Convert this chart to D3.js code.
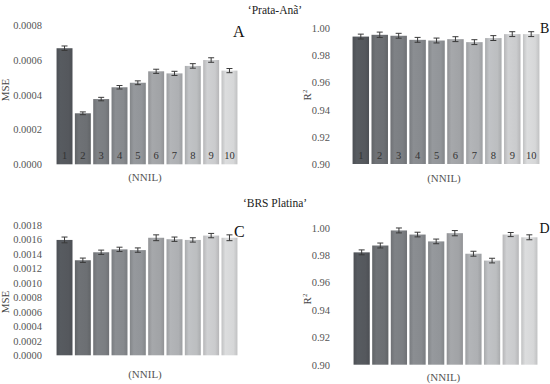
<!DOCTYPE html>
<html><head><meta charset="utf-8">
<script src="https://cdn.jsdelivr.net/npm/d3@7"></script>
<style>body{margin:0;background:#fff}svg{display:block}text{font-family:"Liberation Serif","Times New Roman",serif}</style>
</head><body><div id="c"></div>
<script>
const categories = ["1","2","3","4","5","6","7","8","9","10"];
const mseA = [0.000669,0.000294,0.000376,0.000444,0.00047,0.000536,0.000524,0.000567,0.000601,0.00054];
const mseAerr = [0.000013,0.000008,0.000010,0.000010,0.000011,0.000012,0.000012,0.000013,0.000013,0.000012];
const r2B = [0.9939,0.9952,0.9945,0.9915,0.991,0.992,0.9898,0.9928,0.9957,0.9957];
const r2Berr = [0.0018,0.0020,0.0018,0.0018,0.0018,0.0018,0.0018,0.0018,0.0018,0.0018];
const mseC = [0.00159,0.00131,0.00142,0.00146,0.00145,0.00162,0.0016,0.00159,0.00165,0.00162];
const mseCerr = [0.00004,0.00003,0.00003,0.00003,0.00003,0.00004,0.00003,0.00003,0.00003,0.00004];
const r2D = [0.982,0.987,0.998,0.995,0.99,0.996,0.981,0.976,0.995,0.993];
const r2Derr = [0.0018,0.0018,0.0018,0.0017,0.0017,0.0019,0.0018,0.0017,0.0015,0.0018];
const mseTicks = ["0.0000","0.0002","0.0004","0.0006","0.0008"];
const mseCTicks = ["0.0000","0.0002","0.0004","0.0006","0.0008","0.0010","0.0012","0.0014","0.0016","0.0018"];
const r2Ticks = ["0.90","0.92","0.94","0.96","0.98","1.00"];
const barColors = ["#55585d","#6c6f73","#7b7e82","#878a8e","#929599","#a1a3a6","#aeb0b3","#bcbec0","#cacbcd","#d6d7d8"];

const svg = d3.select("#c").append("svg").attr("width",550).attr("height",384);
const defs = svg.append("defs");
barColors.forEach((c,i)=>{
  const g = defs.append("linearGradient").attr("id","g"+i).attr("x1","0").attr("x2","1").attr("y1","0").attr("y2","0");
  const dk = d3.color(c).darker(0.3), lt = d3.color(c).brighter(0.08);
  g.append("stop").attr("offset","0%").attr("stop-color",dk);
  g.append("stop").attr("offset","25%").attr("stop-color",lt);
  g.append("stop").attr("offset","75%").attr("stop-color",c);
  g.append("stop").attr("offset","100%").attr("stop-color",dk);
});

function panel(o){
  const x = d3.scaleBand().domain(categories).range(o.xr).paddingInner(0.13).paddingOuter(0.03);
  const y = d3.scaleLinear().domain(o.dom).range(o.yr);
  const g = svg.append("g");
  const ax = g.append("g").attr("transform",`translate(${o.axx},0)`)
    .call(d3.axisLeft(y).tickValues(o.ticks.map(Number)).tickFormat((d,i)=>o.ticks[i]).tickSize(0).tickPadding(0));
  ax.attr("font-family","Liberation Serif");
  ax.select(".domain").remove();
  ax.selectAll("text").attr("font-size",10.5).attr("fill","#555");
  g.selectAll("rect.bar").data(o.vals).join("rect").attr("class","bar")
    .attr("x",(d,i)=>x(categories[i])).attr("width",x.bandwidth())
    .attr("y",d=>y(d)).attr("height",d=>y(o.dom[0])-y(d))
    .attr("fill",(d,i)=>`url(#g${i})`);
  const eb = g.selectAll("g.eb").data(o.vals).join("g").attr("class","eb")
    .attr("stroke","#3a3a3a").attr("stroke-width",1);
  eb.append("line").attr("x1",(d,i)=>x(categories[i])+x.bandwidth()/2).attr("x2",(d,i)=>x(categories[i])+x.bandwidth()/2)
    .attr("y1",(d,i)=>y(d+o.err[i])).attr("y2",(d,i)=>y(d-o.err[i]));
  [1,-1].forEach(s=>{
    eb.append("line").attr("x1",(d,i)=>x(categories[i])+x.bandwidth()/2-3).attr("x2",(d,i)=>x(categories[i])+x.bandwidth()/2+3)
      .attr("y1",(d,i)=>y(d+s*o.err[i])).attr("y2",(d,i)=>y(d+s*o.err[i]));
  });
  if(o.nums){
    g.selectAll("text.n").data(categories).join("text").attr("class","n")
      .attr("x",d=>x(d)+x.bandwidth()/2).attr("y",o.yr[0]-5).attr("text-anchor","middle")
      .attr("font-size",10.5).attr("fill","#333").text(d=>d);
  }
  g.append("text").attr("transform",`translate(${o.ylx},${o.yly}) rotate(-90)`).attr("text-anchor","middle")
    .attr("font-size",11).attr("fill","#444").html(o.ylab);
  g.append("text").attr("x",(o.xr[0]+o.xr[1])/2-2).attr("y",o.xly).attr("text-anchor","middle")
    .attr("font-size",11).attr("fill","#555").text("(NNIL)");
  g.append("text").attr("x",o.lx).attr("y",o.ly).attr("font-size",o.lfs||16).attr("fill","#111").text(o.letter);
}

panel({xr:[56,238],yr:[164.3,25.5],dom:[0,0.0008],ticks:mseTicks,vals:mseA,err:mseAerr,axx:42,nums:true,
  ylx:9,yly:90,ylab:"MSE",xly:181,lx:233,ly:37,letter:"A"});
panel({xr:[352,540],yr:[164,28.3],dom:[0.9,1.0],ticks:r2Ticks,vals:r2B,err:r2Berr,axx:330,nums:true,
  ylx:311,yly:95,ylab:"R<tspan dy='-4' font-size='7'>2</tspan>",xly:182,lx:540,ly:33,lfs:14,letter:"B"});
panel({xr:[56,238],yr:[355.3,224.7],dom:[0,0.0018],ticks:mseCTicks,vals:mseC,err:mseCerr,axx:42,nums:false,
  ylx:9,yly:302,ylab:"MSE",xly:378,lx:234,ly:237,letter:"C"});
panel({xr:[353,538],yr:[364.7,227.7],dom:[0.9,1.0],ticks:r2Ticks,vals:r2D,err:r2Derr,axx:330,nums:false,
  ylx:311,yly:299,ylab:"R<tspan dy='-4' font-size='7'>2</tspan>",xly:381,lx:539.5,ly:233,lfs:14,letter:"D"});

svg.append("text").attr("x",275).attr("y",14).attr("text-anchor","middle").attr("font-size",11.5).attr("fill","#222").text("‘Prata-Anã’");
svg.append("text").attr("x",275).attr("y",207).attr("text-anchor","middle").attr("font-size",11.5).attr("fill","#222").text("‘BRS Platina’");
</script></body></html>
